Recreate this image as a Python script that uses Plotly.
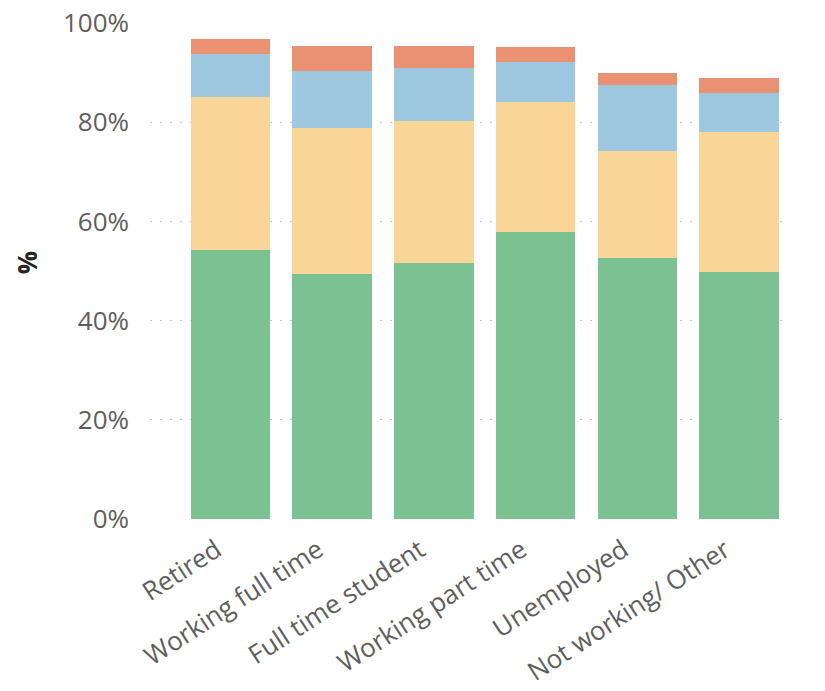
import plotly.graph_objects as go

categories = ["Retired", "Working full time", "Full time student",
              "Working part time", "Unemployed", "Not working/ Other"]
seg1 = [54.2, 49.4, 51.6, 57.9, 52.6, 49.8]
seg2 = [30.9, 29.4, 28.6, 26.2, 21.6, 28.2]
seg3 = [8.65, 11.5, 10.7, 8.0, 13.3, 7.9]
seg4 = [3.05, 5.1, 4.5, 3.1, 2.4, 3.0]
tick_vals = [0, 20, 40, 60, 80, 100]
tick_text = ["0%", "20%", "40%", "60%", "80%", "100%"]

colors = ["#7BC191", "#F9D597", "#9DC8E0", "#EA9073"]

fig = go.Figure()
for vals, c in zip([seg1, seg2, seg3, seg4], colors):
    fig.add_trace(go.Bar(x=categories, y=vals, marker_color=c,
                         marker_line_width=0, showlegend=False))

fig.update_layout(
    barmode="stack",
    bargap=0.22,
    width=825, height=691,
    margin=dict(l=150, r=35, t=23, b=172, autoexpand=False),
    plot_bgcolor="white", paper_bgcolor="white",
    font=dict(family="Open Sans, Noto Sans, sans-serif", color="#605E5C"),
)
fig.update_xaxes(tickangle=-33, tickfont=dict(size=26, color="#605E5C"),
                 showgrid=False, showline=False, ticks="", automargin=False,
                 ticklabelstandoff=10, ticklabelshift=-14,
                 range=[-0.79, 5.5])
fig.update_yaxes(range=[0, 100], tickvals=tick_vals, ticktext=tick_text,
                 tickfont=dict(size=26, color="#605E5C"), automargin=False,
                 showgrid=True, gridcolor="#C8C8C8", griddash="2px,8px",
                 gridwidth=1, zeroline=False, showline=False,
                 ticklabelstandoff=20)
fig.add_annotation(text="<b>%</b>", xref="paper", yref="paper",
                   x=-0.192, y=0.516, xanchor="center", yanchor="middle",
                   showarrow=False, textangle=-90,
                   font=dict(size=26, color="#252423"))

fig.write_html("out.html")
